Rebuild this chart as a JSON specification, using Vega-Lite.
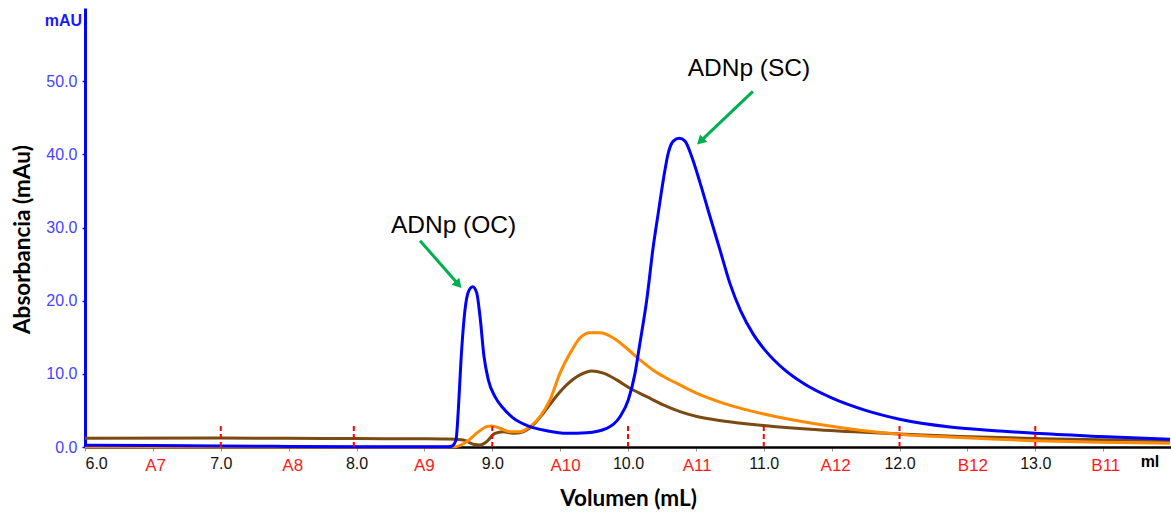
{
  "$schema": "https://vega.github.io/schema/vega-lite/v6.json",
  "width": 1086,
  "height": 439,
  "autosize": {"type": "none"},
  "padding": {"left": 85, "top": 8, "right": 0, "bottom": 65},
  "background": "white",
  "config": {"view": {"stroke": null}, "font": "Liberation Sans"},
  "datasets": {
    "curves": [
      {"v": 6.0, "a": 0.25, "s": "azul"}, {"v": 6.5, "a": 0.2, "s": "azul"}, {"v": 7.0, "a": 0.12, "s": "azul"}, {"v": 7.5, "a": 0.08, "s": "azul"}, {"v": 8.0, "a": 0.05, "s": "azul"}, {"v": 8.5, "a": 0.03, "s": "azul"}, {"v": 8.68, "a": 0.03, "s": "azul"}, {"v": 8.701, "a": 0.1, "s": "azul"}, {"v": 8.733, "a": 0.96, "s": "azul"}, {"v": 8.75, "a": 5.06, "s": "azul"}, {"v": 8.77, "a": 11.9, "s": "azul"}, {"v": 8.799, "a": 18.7, "s": "azul"}, {"v": 8.824, "a": 21.2, "s": "azul"}, {"v": 8.856, "a": 21.9, "s": "azul"}, {"v": 8.885, "a": 21.1, "s": "azul"}, {"v": 8.91, "a": 17.8, "s": "azul"}, {"v": 8.939, "a": 12.4, "s": "azul"}, {"v": 8.971, "a": 9.17, "s": "azul"}, {"v": 9.02, "a": 6.88, "s": "azul"}, {"v": 9.081, "a": 5.29, "s": "azul"}, {"v": 9.153, "a": 3.97, "s": "azul"}, {"v": 9.278, "a": 2.78, "s": "azul"}, {"v": 9.401, "a": 2.23, "s": "azul"}, {"v": 9.548, "a": 1.87, "s": "azul"}, {"v": 9.696, "a": 1.96, "s": "azul"}, {"v": 9.843, "a": 2.56, "s": "azul"}, {"v": 9.941, "a": 4.14, "s": "azul"}, {"v": 10.002, "a": 6.43, "s": "azul"}, {"v": 10.052, "a": 10.1, "s": "azul"}, {"v": 10.088, "a": 14.2, "s": "azul"}, {"v": 10.138, "a": 20.1, "s": "azul"}, {"v": 10.186, "a": 27.4, "s": "azul"}, {"v": 10.223, "a": 32.0, "s": "azul"}, {"v": 10.26, "a": 36.5, "s": "azul"}, {"v": 10.297, "a": 40.2, "s": "azul"}, {"v": 10.334, "a": 41.8, "s": "azul"}, {"v": 10.378, "a": 42.2, "s": "azul"}, {"v": 10.42, "a": 41.8, "s": "azul"}, {"v": 10.469, "a": 39.7, "s": "azul"}, {"v": 10.531, "a": 36.1, "s": "azul"}, {"v": 10.604, "a": 31.5, "s": "azul"}, {"v": 10.678, "a": 26.9, "s": "azul"}, {"v": 10.75, "a": 22.4, "s": "azul"}, {"v": 10.83, "a": 18.6, "s": "azul"}, {"v": 10.92, "a": 15.5, "s": "azul"}, {"v": 11.02, "a": 13.0, "s": "azul"}, {"v": 11.15, "a": 10.6, "s": "azul"}, {"v": 11.3, "a": 8.6, "s": "azul"}, {"v": 11.5, "a": 6.7, "s": "azul"}, {"v": 11.75, "a": 5.0, "s": "azul"}, {"v": 12.0, "a": 3.8, "s": "azul"}, {"v": 12.372, "a": 2.74, "s": "azul"}, {"v": 12.74, "a": 2.19, "s": "azul"}, {"v": 12.998, "a": 1.87, "s": "azul"}, {"v": 13.477, "a": 1.44, "s": "azul"}, {"v": 13.993, "a": 1.05, "s": "azul"},
      {"v": 6.0, "a": 0.0, "s": "naranja"}, {"v": 7.0, "a": 0.0, "s": "naranja"}, {"v": 8.0, "a": 0.0, "s": "naranja"}, {"v": 8.6, "a": 0.0, "s": "naranja"}, {"v": 8.726, "a": 0.05, "s": "naranja"}, {"v": 8.812, "a": 0.73, "s": "naranja"}, {"v": 8.885, "a": 1.87, "s": "naranja"}, {"v": 8.959, "a": 2.78, "s": "naranja"}, {"v": 8.996, "a": 2.87, "s": "naranja"}, {"v": 9.057, "a": 2.56, "s": "naranja"}, {"v": 9.131, "a": 2.09, "s": "naranja"}, {"v": 9.204, "a": 2.09, "s": "naranja"}, {"v": 9.278, "a": 2.78, "s": "naranja"}, {"v": 9.352, "a": 4.14, "s": "naranja"}, {"v": 9.425, "a": 6.43, "s": "naranja"}, {"v": 9.499, "a": 10.1, "s": "naranja"}, {"v": 9.573, "a": 12.8, "s": "naranja"}, {"v": 9.646, "a": 14.9, "s": "naranja"}, {"v": 9.72, "a": 15.6, "s": "naranja"}, {"v": 9.794, "a": 15.6, "s": "naranja"}, {"v": 9.892, "a": 14.9, "s": "naranja"}, {"v": 9.99, "a": 13.5, "s": "naranja"}, {"v": 10.088, "a": 11.9, "s": "naranja"}, {"v": 10.186, "a": 10.5, "s": "naranja"}, {"v": 10.285, "a": 9.4, "s": "naranja"}, {"v": 10.383, "a": 8.48, "s": "naranja"}, {"v": 10.5, "a": 7.4, "s": "naranja"}, {"v": 10.7, "a": 6.0, "s": "naranja"}, {"v": 11.0, "a": 4.5, "s": "naranja"}, {"v": 11.4, "a": 3.1, "s": "naranja"}, {"v": 11.71, "a": 2.3, "s": "naranja"}, {"v": 12.0, "a": 1.75, "s": "naranja"}, {"v": 12.445, "a": 1.3, "s": "naranja"}, {"v": 13.0, "a": 0.86, "s": "naranja"}, {"v": 13.477, "a": 0.65, "s": "naranja"}, {"v": 13.993, "a": 0.5, "s": "naranja"},
      {"v": 6.0, "a": 1.2, "s": "marron"}, {"v": 7.0, "a": 1.22, "s": "marron"}, {"v": 7.5, "a": 1.2, "s": "marron"}, {"v": 8.0, "a": 1.15, "s": "marron"}, {"v": 8.5, "a": 1.12, "s": "marron"}, {"v": 8.665, "a": 1.09, "s": "marron"}, {"v": 8.787, "a": 0.96, "s": "marron"}, {"v": 8.861, "a": 0.37, "s": "marron"}, {"v": 8.91, "a": 0.27, "s": "marron"}, {"v": 8.959, "a": 0.73, "s": "marron"}, {"v": 9.02, "a": 1.87, "s": "marron"}, {"v": 9.081, "a": 2.09, "s": "marron"}, {"v": 9.155, "a": 1.87, "s": "marron"}, {"v": 9.229, "a": 2.09, "s": "marron"}, {"v": 9.302, "a": 3.01, "s": "marron"}, {"v": 9.376, "a": 4.61, "s": "marron"}, {"v": 9.45, "a": 6.43, "s": "marron"}, {"v": 9.548, "a": 8.48, "s": "marron"}, {"v": 9.646, "a": 9.85, "s": "marron"}, {"v": 9.733, "a": 10.4, "s": "marron"}, {"v": 9.818, "a": 10.1, "s": "marron"}, {"v": 9.917, "a": 9.17, "s": "marron"}, {"v": 10.015, "a": 8.03, "s": "marron"}, {"v": 10.138, "a": 6.88, "s": "marron"}, {"v": 10.26, "a": 5.75, "s": "marron"}, {"v": 10.383, "a": 4.83, "s": "marron"}, {"v": 10.5, "a": 4.2, "s": "marron"}, {"v": 10.7, "a": 3.55, "s": "marron"}, {"v": 11.0, "a": 2.95, "s": "marron"}, {"v": 11.4, "a": 2.35, "s": "marron"}, {"v": 12.0, "a": 1.78, "s": "marron"}, {"v": 12.445, "a": 1.44, "s": "marron"}, {"v": 13.0, "a": 1.16, "s": "marron"}, {"v": 13.477, "a": 0.98, "s": "marron"}, {"v": 13.993, "a": 0.89, "s": "marron"}
    ],
    "markers": [{"v": 7.0}, {"v": 7.98}, {"v": 9.0}, {"v": 10.0}, {"v": 11.0}, {"v": 12.0}, {"v": 13.0}],
    "fracs": [
      {"f": "A7", "v": 6.52}, {"f": "A8", "v": 7.53}, {"f": "A9", "v": 8.5}, {"f": "A10", "v": 9.54},
      {"f": "A11", "v": 10.51}, {"f": "A12", "v": 11.53}, {"f": "B12", "v": 12.54}, {"f": "B11", "v": 13.52}
    ],
    "notes": [
      {"t": "ADNp (OC)", "v": 8.715, "a": 30.2},
      {"t": "ADNp (SC)", "v": 10.891, "a": 51.7}
    ],
    "arrows": [
      {"v1": 8.468, "a1": 28.2, "v2": 8.751, "a2": 22.2, "ang": 138.2},
      {"v1": 10.92, "a1": 48.6, "v2": 10.533, "a2": 41.78, "ang": 226.7}
    ]
  },
  "encoding": {
    "x": {
      "type": "quantitative",
      "scale": {"domain": [6, 14], "nice": false, "zero": false},
      "title": "Volumen (mL)",
      "axis": {
        "titleFont": "Lato", "titleFontSize": 22.5, "titleFontWeight": "bold", "titleColor": "black",
        "titleBaseline": "middle", "titleY": 51,
        "values": [6, 6.5, 7, 7.5, 8, 8.5, 9, 9.5, 10, 10.5, 11, 11.5, 12, 12.5, 13, 13.5],
        "labelExpr": "datum.value % 1 == 0 ? format(datum.value, '.1f') : ''",
        "labelFontSize": 16, "labelColor": "#111111", "labelFlush": true, "labelDx": 4,
        "labelPadding": 4, "labelOverlap": false,
        "tickSize": 4, "tickColor": "#999999", "tickWidth": 1,
        "domainColor": "black", "domainWidth": 2.5, "grid": false
      }
    },
    "y": {
      "type": "quantitative",
      "scale": {"domain": [0, 60], "nice": false, "zero": false},
      "title": "Absorbancia (mAu)",
      "axis": {
        "titleFont": "Lato", "titleFontSize": 22.5, "titleFontWeight": "bold", "titleColor": "black",
        "titleY": 231, "titleX": -63, "titleBaseline": "middle",
        "values": [0, 10, 20, 30, 40, 50], "format": ".1f",
        "labelFontSize": 16, "labelColor": "#4444ff", "labelPadding": 5,
        "tickSize": 3, "tickColor": "#0000ff", "tickWidth": 1.5,
        "domainColor": "#0000ff", "domainWidth": 3, "grid": false
      }
    }
  },
  "layer": [
    {
      "data": {"name": "curves"},
      "transform": [{"filter": "datum.s == 'marron'"}],
      "mark": {"type": "line", "color": "#7b4a12", "strokeWidth": 3, "interpolate": "monotone"},
      "encoding": {"x": {"field": "v"}, "y": {"field": "a"}}
    },
    {
      "data": {"name": "curves"},
      "transform": [{"filter": "datum.s == 'naranja'"}],
      "mark": {"type": "line", "color": "#ff8a00", "strokeWidth": 3, "interpolate": "monotone"},
      "encoding": {"x": {"field": "v"}, "y": {"field": "a"}}
    },
    {
      "data": {"name": "curves"},
      "transform": [{"filter": "datum.s == 'azul'"}],
      "mark": {"type": "line", "color": "#0000ff", "strokeWidth": 3, "interpolate": "monotone"},
      "encoding": {"x": {"field": "v"}, "y": {"field": "a"}}
    },
    {
      "data": {"name": "markers"},
      "mark": {"type": "rule", "color": "#ff0000", "strokeWidth": 2, "strokeDash": [5, 3]},
      "encoding": {
        "x": {"field": "v"},
        "y": {"datum": 0},
        "y2": {"datum": 3.1}
      }
    },
    {
      "data": {"name": "fracs"},
      "mark": {"type": "text", "color": "#ff1a1a", "fontSize": 17, "align": "center", "baseline": "middle"},
      "encoding": {
        "x": {"field": "v"},
        "y": {"datum": -2.6},
        "text": {"field": "f"}
      }
    },
    {
      "data": {"values": [{"t": "ml"}]},
      "mark": {"type": "text", "color": "black", "fontSize": 16, "fontWeight": "bold", "align": "center", "baseline": "middle"},
      "encoding": {
        "x": {"datum": 13.845},
        "y": {"datum": -2.1},
        "text": {"field": "t"}
      }
    },
    {
      "data": {"values": [{"t": "mAU"}]},
      "mark": {"type": "text", "color": "#1a1aff", "fontSize": 16, "fontWeight": "bold", "align": "right", "baseline": "middle", "dx": -3},
      "encoding": {
        "x": {"datum": 6},
        "y": {"datum": 58.2},
        "text": {"field": "t"}
      }
    },
    {
      "data": {"name": "notes"},
      "mark": {"type": "text", "color": "black", "fontSize": 24.5, "align": "center", "baseline": "middle"},
      "encoding": {
        "x": {"field": "v"},
        "y": {"field": "a"},
        "text": {"field": "t"}
      }
    },
    {
      "data": {"name": "arrows"},
      "mark": {"type": "rule", "color": "#00b050", "strokeWidth": 3},
      "encoding": {
        "x": {"field": "v1"},
        "y": {"field": "a1"},
        "x2": {"field": "v2"},
        "y2": {"field": "a2"}
      }
    },
    {
      "data": {"name": "arrows"},
      "mark": {"type": "point", "shape": "triangle-up", "filled": true, "color": "#00b050", "size": 110, "opacity": 1},
      "encoding": {
        "x": {"field": "v2"},
        "y": {"field": "a2"},
        "angle": {"field": "ang", "type": "quantitative", "scale": null}
      }
    }
  ]
}
